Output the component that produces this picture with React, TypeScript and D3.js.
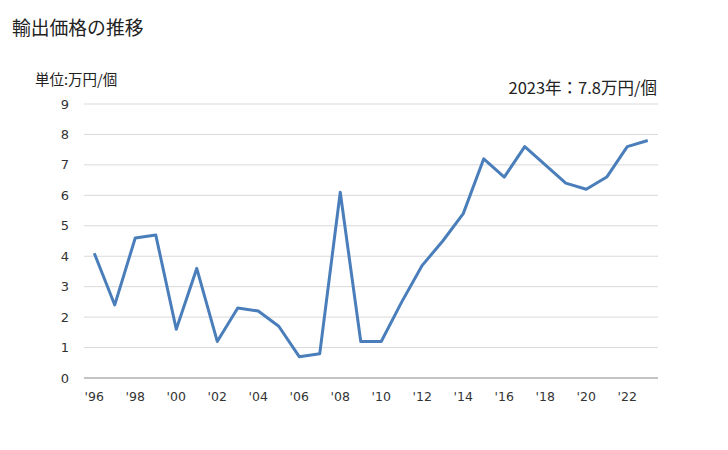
import React from "react";
import * as d3 from "d3";

const years = [1996,1997,1998,1999,2000,2001,2002,2003,2004,2005,2006,2007,2008,2009,2010,2011,2012,2013,2014,2015,2016,2017,2018,2019,2020,2021,2022,2023];
const values = [4.1,2.4,4.6,4.7,1.6,3.6,1.2,2.3,2.2,1.7,0.7,0.8,6.1,1.2,1.2,2.5,3.7,4.5,5.4,7.2,6.6,7.6,7.0,6.4,6.2,6.6,7.6,7.8];
const yTicks = [0,1,2,3,4,5,6,7,8,9];
const xTickYears = [1996,1998,2000,2002,2004,2006,2008,2010,2012,2014,2016,2018,2020,2022];

const title = "輸出価格の推移";
const unitLabel = "単位:万円/個";
const annotation = "2023年：7.8万円/個";

export default function App() {
  const W = 728, H = 450;
  const left = 84, right = 658, top = 104, bottom = 378;
  const x = d3.scalePoint<number>().domain(years).range([left, right]).padding(0.5);
  const y = d3.scaleLinear().domain([0, 9]).range([bottom, top]);
  const line = d3.line<number>().x((_, i) => x(years[i])!).y(d => y(d));
  const font = "'Noto Sans CJK JP', 'DejaVu Sans', sans-serif";
  return (
    <svg width={W} height={H} style={{ position: "absolute", left: 0, top: 0 }} fontFamily={font}>
      <rect width={W} height={H} fill="#fff" />
      <text x={12} y={35} fontSize={18.8} fill="#222">{title}</text>
      <text x={35} y={85} fontSize={14.5} fill="#222">{unitLabel}</text>
      <text x={657} y={94} fontSize={16.5} fill="#222" textAnchor="end">{annotation}</text>
      {yTicks.map(t => (
        <g key={t}>
          {t > 0 && <line x1={left} x2={right} y1={y(t)} y2={y(t)} stroke="#d9d9d9" strokeWidth={1} />}
          <text x={69} y={y(t) + 4.5} fontSize={13} fill="#333" textAnchor="end" fontFamily="'DejaVu Sans', sans-serif">{t}</text>
        </g>
      ))}
      <line x1={left} x2={right} y1={y(0)} y2={y(0)} stroke="#888" strokeWidth={1} />
      {xTickYears.map(yr => (
        <text key={yr} x={x(yr)!} y={401} fontSize={12.5} fill="#333" textAnchor="middle" fontFamily="'DejaVu Sans', sans-serif">
          {"'" + String(yr).slice(2)}
        </text>
      ))}
      <path d={line(values) || ""} fill="none" stroke="#4a7ebb" strokeWidth={3} strokeLinejoin="round" />
    </svg>
  );
}
